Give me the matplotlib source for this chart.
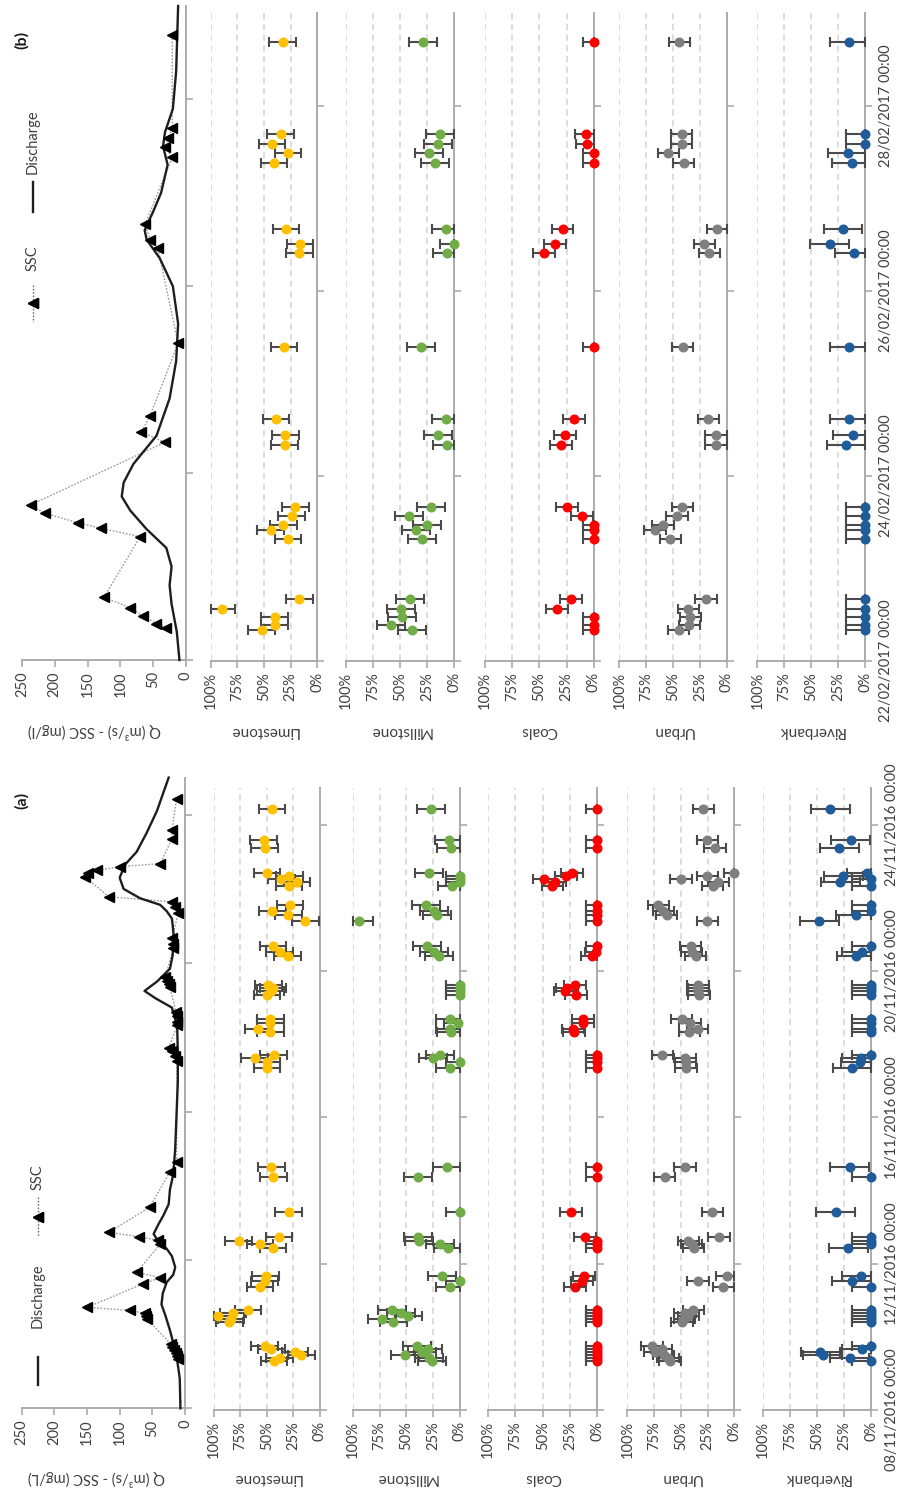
import numpy as np
import pandas as pd
import matplotlib
matplotlib.use("Agg")
import matplotlib.pyplot as plt
import matplotlib.dates as mdates
from matplotlib.lines import Line2D

# ---------------------------------------------------------------- data
SOURCES = ["Limestone", "Millstone", "Coals", "Urban", "Riverbank"]
SOURCE_COLORS = ["#FFC000", "#70AD47", "#FF0000", "#7F7F7F", "#1F5C99"]
SOURCE_ERR = [12.5, 13.0, 10.0, 10.0, 18.0]          # +/- percentage points

# (a) November 2016 event (days after 08/11/2016 00:00)
nov_start = "2016-11-08 00:00"
nov_end = "2016-11-25 00:00"
nov_ticks = ["08/11/2016 00:00", "12/11/2016 00:00", "16/11/2016 00:00",
             "20/11/2016 00:00", "24/11/2016 00:00"]
nov_sample_days = [1.34, 1.42, 1.50, 1.58, 1.66, 1.74,
                   2.40, 2.48, 2.56, 2.64, 2.72,
                   3.36, 3.52, 3.67,
                   4.42, 4.53, 4.63, 4.74,
                   5.42,
                   6.38, 6.64,
                   9.35, 9.50, 9.63, 9.71,
                   10.33, 10.42, 10.58, 10.69,
                   11.35, 11.45, 11.53, 11.62,
                   12.40, 12.52, 12.67,
                   13.36, 13.52, 13.65, 13.79,
                   14.33, 14.42, 14.50, 14.60, 14.68,
                   15.35, 15.59,
                   16.43]
nov_ssc = [10, 12, 14, 17, 20, 22,
           58, 60, 62, 84, 150,
           64, 38, 74,
           38, 42, 71, 117,
           54,
           23, 13,
           12, 15, 20, 25,
           12, 12, 13, 14,
           23, 25, 28, 30,
           18, 19, 20,
           10, 15, 20, 117,
           153, 148, 135, 99, 38,
           20, 20,
           13]
nov_limestone = [43.2, 37.9, 17.4, 23.3, 45.7, 52,
                 85.2, 83.6, 96.2, 81.7, 67.5,
                 56.2, 52, 51.1,
                 44.2, 56.2, 76.3, 38.5,
                 29.3,
                 43.8, 45.7,
                 49.8, 49.8, 61.5, 43.5,
                 46.7, 58, 46.7, 46.7,
                 49.8, 46.4, 44.2, 48.6,
                 30.3, 37.9, 44.2,
                 13.9, 29.7, 44.8, 28,
                 29, 21.5, 36.3, 28.7, 49.8,
                 52, 53,
                 45.1]
nov_millstone = [25.8, 28.6, 51.2, 35, 29.5, 40.4,
                 62, 72.4, 48, 55, 63.7,
                 9.3, 0, 17,
                 10.9, 18.6, 37.9, 39.4,
                 0,
                 39.4, 12.4,
                 9.3, 0, 24.8, 18.3,
                 8.7, 9.3, 1.5, 9.3,
                 0, 0, 0, 0,
                 19.6, 24, 31,
                 94, 21.7, 24, 32,
                 7.8, 0, 0, 0, 28.6,
                 8.4, 10.6,
                 26.7]
nov_coals = [0, 0, 0, 0, 0, 0,
             0, 0, 0, 0, 0,
             20.4, 14.3, 11.9,
             0, 0, 0, 11.3,
             24.4,
             0, 0,
             0, 0, 0, 0,
             21, 22.6, 13.4, 13.4,
             19.5, 29.6, 28, 20.4,
             5.2, 1.2, 0,
             0, 0, 0, 0,
             41, 38.7, 48.8, 29, 23.5,
             0, 0,
             0]
nov_urban = [60, 62, 66, 74, 68, 77,
             49, 46.7, 43, 46, 38.3,
             10.3, 34, 7.2,
             38, 40, 43, 14.3,
             20.6,
             65, 46,
             45, 45.5, 46, 67.3,
             42, 34.3, 41.4, 49.2,
             33, 34, 33.5, 34,
             36, 40, 40.8,
             25.2, 63.2, 66.4, 71,
             20.2, 15, 49.8, 25.2, 0,
             18, 25.2,
             29]
nov_riverbank = [0, 19.4, 44.6, 47, 8.6, 0,
                 0, 0, 0, 0, 0,
                 0, 17.8, 9.2,
                 21, 0, 0, 0,
                 32.6,
                 0, 19.4,
                 17.2, 9.8, 9.2, 0,
                 0, 0, 0, 0,
                 0, 0, 0, 0,
                 13.8, 8.6, 0,
                 47.7, 14.2, 0, 0,
                 0, 28.6, 0, 25.5, 3.7,
                 29.5, 18.8,
                 37.8]
nov_flow_days = [0, 0.8, 1.3, 1.7, 2.1, 2.5, 2.8, 3.1, 3.4, 3.6, 3.8, 4.1, 4.3,
                 4.5, 4.7, 4.95, 5.2, 5.5, 5.9, 6.3, 7.0, 7.9, 8.8, 9.6, 10.3,
                 10.8, 11.05, 11.25, 11.5, 11.85, 12.2, 12.7, 13.2, 13.4, 13.57,
                 13.75, 14.0, 14.3, 14.65, 15.0, 15.5, 16.1, 16.6, 17.0]
nov_flow = [7, 8, 12, 17, 23, 30, 36, 34, 28, 18, 15, 20, 28,
            41, 48, 41, 33, 25, 23, 18, 15, 13, 11, 11, 12,
            20, 45, 62, 43, 23, 19, 17, 20, 28, 38,
            69, 94, 100, 92, 74, 59, 43, 33, 25]

# (b) February 2017 event (days after 22/02/2017 00:00)
feb_start = "2017-02-22 00:00"
feb_end = "2017-03-01 00:00"
feb_ticks = ["22/02/2017 00:00", "24/02/2017 00:00", "26/02/2017 00:00",
             "28/02/2017 00:00"]
feb_sample_days = [0.34, 0.39, 0.47, 0.56, 0.67,
                   1.32, 1.41, 1.47, 1.57, 1.66,
                   2.33, 2.44, 2.61,
                   3.39,
                   4.41, 4.50, 4.67,
                   5.38, 5.49, 5.59, 5.69,
                   6.69]
feb_ssc = [30, 45, 65, 85, 125,
           70, 130, 165, 215, 237,
           32, 68, 55,
           12,
           43, 55, 62,
           21, 32, 27, 21,
           21]
feb_limestone = [52.2, 40, 40, 89.7, 16.9,
                 27.5, 43.8, 31.9, 24, 20.6,
                 30.6, 30, 38.8,
                 31.3,
                 16.9, 16.3, 29.4,
                 40.6, 27.5, 42.5, 34.4,
                 32.5]
feb_millstone = [39.4, 58.5, 48.6, 49.5, 40.9,
                 30.2, 35.7, 25.5, 41.5, 21.8,
                 6.8, 15.4, 8,
                 31.1,
                 6.8, 0, 8,
                 17.5, 23.1, 15.1, 13.2,
                 29.2]
feb_coals = [0, 0, 0, 34, 21.2,
             0, 0, 0, 10.7, 24.5,
             30, 26.7, 18.4,
             0,
             46, 35.3, 28.8,
             0, 0, 6.4, 7.4,
             0]
feb_urban = [44.7, 34.8, 33.9, 35.7, 19.3,
             52.5, 66.8, 59.3, 46.3, 41.3,
             10, 10, 17,
             41,
             16.1, 20.8, 8.7,
             40, 54.3, 42, 42,
             44]
feb_riverbank = [0, 0, 0, 0, 0,
                 0, 0, 0, 0, 0,
                 17.4, 11.6, 14.7,
                 14.4,
                 9.8, 32.7, 20.5,
                 12.2, 15.9, 0, 0,
                 14.7]
feb_flow_days = [0, 0.3, 0.6, 0.8, 1.0, 1.2, 1.4, 1.6, 1.75, 1.9, 2.1, 2.4, 2.8,
                 3.2, 3.6, 4.0, 4.3, 4.5, 4.6, 4.8, 5.0, 5.3, 5.5, 5.65, 5.9,
                 6.3, 7.0]
feb_flow = [10, 14, 22, 25, 22, 30, 60, 85, 98, 95, 80, 45, 25,
            15, 12, 20, 40, 60, 63, 50, 38, 28, 35, 32, 20,
            15, 12]

# ---------------------------------------------------------------- style
plt.rcParams["font.family"] = ["Lato", "DejaVu Sans"]
W, H = 902, 1493
AXC = "#ABABAB"
GRIDC = "#D3D3D3"
TXT = "#404040"
FS = 10.5

fig = plt.figure(figsize=(W / 100, H / 100), dpi=100)


def box(x0, x1, ytop, ybot):
    """Axes rectangle given in pixel coordinates (origin top-left)."""
    return fig.add_axes([x0 / W, 1 - ybot / H, (x1 - x0) / W, (ybot - ytop) / H])


def fx(x):
    return x / W


def fy(y):
    return 1 - y / H


def day_nums(start, days):
    stamps = pd.Timestamp(start) + pd.to_timedelta(np.asarray(days, float), unit="D")
    return mdates.date2num(stamps)


def time_axis(ax, start, end, ticks, show_labels):
    ax.set_ylim(mdates.date2num(pd.Timestamp(start)), mdates.date2num(pd.Timestamp(end)))
    pos = mdates.date2num(pd.to_datetime(ticks, format="%d/%m/%Y %H:%M"))
    ax.yaxis.tick_right()
    ax.set_yticks(pos)
    ax.set_yticklabels(ticks if show_labels else [""] * len(ticks))
    ax.tick_params(axis="y", direction="out", length=5, width=1.2, color=AXC,
                   labelsize=FS, labelcolor=TXT, labelrotation=90, pad=5)
    for lbl in ax.get_yticklabels():
        lbl.set_verticalalignment("center")
        lbl.set_horizontalalignment("left")
    for s in ("left", "top"):
        ax.spines[s].set_visible(False)
    for s in ("right", "bottom"):
        ax.spines[s].set_color(AXC)
        ax.spines[s].set_linewidth(1.4)
    ax.patch.set_alpha(0)


def value_axis(ax, vmax, ticks, labels):
    ax.set_xlim(vmax, 0)
    ax.set_xticks(ticks)
    ax.set_xticklabels(labels)
    ax.tick_params(axis="x", direction="out", length=5, width=1.2, color=AXC,
                   labelsize=FS, labelcolor=TXT, labelrotation=90, pad=3)


def draw_panel(spec):
    start, end, ticks = spec["start"], spec["end"], spec["ticks"]
    t_samples = day_nums(start, spec["sample_days"])

    # discharge / SSC column
    ax = box(*spec["flow_box"])
    value_axis(ax, 250, [0, 50, 100, 150, 200, 250],
               ["0", "50", "100", "150", "200", "250"])
    time_axis(ax, start, end, ticks, False)
    ax.plot(spec["flow"], day_nums(start, spec["flow_days"]), color="#1E1E1E",
            lw=1.7, solid_joinstyle="round", zorder=3, clip_on=False)
    ax.plot(spec["ssc"], t_samples, color="#9A9A9A", lw=1.0, ls=(0, (1.2, 1.2)),
            zorder=2)
    ax.plot(spec["ssc"], t_samples, ls="none", marker="<", ms=7.5, mfc="black",
            mec="black", zorder=4)

    # source apportionment columns
    for i, (name, color, err) in enumerate(zip(SOURCES, SOURCE_COLORS, SOURCE_ERR)):
        ax = box(*spec["boxes"][i])
        value_axis(ax, 100, [0, 25, 50, 75, 100], ["0%", "25%", "50%", "75%", "100%"])
        time_axis(ax, start, end, ticks, i == len(SOURCES) - 1)
        for g in (25, 50, 75, 100):
            ax.axvline(g, color=GRIDC, lw=1.1, ls=(0, (4, 3)), zorder=0)
        vals = np.asarray(spec["values"][i], float)
        lo = np.minimum(err, vals)
        hi = np.minimum(err, 100 - vals)
        ax.errorbar(vals, t_samples, xerr=[lo, hi], fmt="o", ms=6.2, mfc=color,
                    mec=color, ecolor="#4A4A4A", elinewidth=1.5, capsize=3.6,
                    capthick=1.5, zorder=3, clip_on=False)
        x0, x1, _, _ = spec["boxes"][i]
        fig.text(fx((x0 + x1) / 2), fy(spec["label_y"]), name, rotation=180,
                 ha="center", va="center", fontsize=FS + 0.5, color=TXT)

    fig.text(fx(spec["ylabel_x"]), fy(spec["label_y"]), spec["ylabel"], rotation=180,
             ha="center", va="center", fontsize=FS, color=TXT)
    fig.text(fx(22), fy(spec["tag_y"]), spec["tag"], rotation=90, ha="center",
             va="center", fontsize=FS + 1, fontweight="bold", color="#1A1A1A")


def legend_entry_line(x, y0, y1, **kw):
    fig.add_artist(Line2D([fx(x), fx(x)], [fy(y0), fy(y1)],
                          transform=fig.transFigure, **kw))


panel_a = dict(
    start=nov_start, end=nov_end, ticks=nov_ticks,
    sample_days=nov_sample_days, ssc=nov_ssc,
    flow_days=nov_flow_days, flow=nov_flow,
    values=[nov_limestone, nov_millstone, nov_coals, nov_urban, nov_riverbank],
    flow_box=(21.7, 185.0, 777.6, 1408.3),
    boxes=[(213.5, 320.0, 788, 1410), (352.7, 460.0, 788, 1410),
           (488.0, 597.3, 788, 1410), (627.3, 734.3, 788, 1410),
           (762.7, 871.0, 788, 1410)],
    label_y=1478, ylabel="Q (m³/s) - SSC (mg/L)", ylabel_x=96,
    tag="(a)", tag_y=800,
)
panel_b = dict(
    start=feb_start, end=feb_end, ticks=feb_ticks,
    sample_days=feb_sample_days, ssc=feb_ssc,
    flow_days=feb_flow_days, flow=feb_flow,
    values=[feb_limestone, feb_millstone, feb_coals, feb_urban, feb_riverbank],
    flow_box=(22.0, 186.0, 6, 660),
    boxes=[(210.7, 317.3, 13, 661), (346.0, 454.3, 13, 661),
           (484.7, 594.0, 13, 661), (619.3, 726.7, 13, 661),
           (757.3, 865.0, 13, 661)],
    label_y=731, ylabel="Q (m³/s) - SSC (mg/l)", ylabel_x=94,
    tag="(b)", tag_y=40,
)

draw_panel(panel_a)
draw_panel(panel_b)

# legends
legend_entry_line(38, 1357, 1385, color="#1E1E1E", lw=1.7)
fig.text(fx(38), fy(1296), "Discharge", rotation=90, ha="center", va="center",
         fontsize=FS, color=TXT)
legend_entry_line(38, 1197, 1237, color="#6E6E6E", lw=1.0, ls=(0, (1.2, 1.2)))
legend_entry_line(38, 1217, 1217, marker="<", ms=7.5, color="black", ls="none")
fig.text(fx(38), fy(1177), "SSC", rotation=90, ha="center", va="center",
         fontsize=FS, color=TXT)

legend_entry_line(33, 285, 322, color="#6E6E6E", lw=1.0, ls=(0, (1.2, 1.2)))
legend_entry_line(33, 303, 303, marker="<", ms=7.5, color="black", ls="none")
fig.text(fx(33), fy(258), "SSC", rotation=90, ha="center", va="center",
         fontsize=FS, color=TXT)
legend_entry_line(33, 182, 212, color="#1E1E1E", lw=1.7)
fig.text(fx(33), fy(142), "Discharge", rotation=90, ha="center", va="center",
         fontsize=FS, color=TXT)

fig.savefig("out.png", dpi=100)
